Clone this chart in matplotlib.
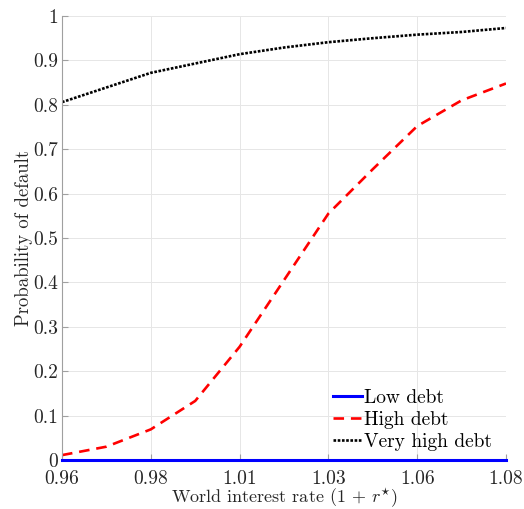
import numpy as np
import matplotlib
matplotlib.use('Agg')
import matplotlib.pyplot as plt

plt.rcParams['font.family'] = 'serif'
plt.rcParams['font.serif'] = ['cmr10']
plt.rcParams['mathtext.fontset'] = 'cm'
plt.rcParams['axes.unicode_minus'] = False

# world interest rate grid
tasa = [0.96, 0.972, 0.984, 0.996, 1.008, 1.02, 1.032, 1.044, 1.056, 1.068, 1.08]

# probability of default
bajo = [0, 0, 0, 0, 0, 0, 0, 0, 0, 0, 0]
alto = [0.011, 0.030, 0.069, 0.133, 0.255, 0.405, 0.555, 0.655, 0.752, 0.810, 0.848]
muy_alto = [0.806, 0.839, 0.872, 0.893, 0.914, 0.929, 0.941, 0.950, 0.958, 0.964, 0.973]

xticks = [0.96, 0.984, 1.008, 1.032, 1.056, 1.08]
xlabels = ['0.96', '0.98', '1.01', '1.03', '1.06', '1.08']
yticks = [0, 0.1, 0.2, 0.3, 0.4, 0.5, 0.6, 0.7, 0.8, 0.9, 1]
ylabels = ['0', '0.1', '0.2', '0.3', '0.4', '0.5', '0.6', '0.7', '0.8', '0.9', '1']

fig = plt.figure(figsize=(5.24, 5.09), dpi=100)
ax = fig.add_axes([62/524, 49/509, 444/524, 444/509])

ax.plot(tasa, bajo, color='blue', lw=2.2, label='Low debt', clip_on=False, zorder=3)
ax.plot(tasa, alto, color='red', lw=1.9, ls=(0, (4, 2.6)), label='High debt')
ax.plot(tasa, muy_alto, color='black', lw=1.9, ls=(0, (1, 0.6)), label='Very high debt')

ax.set_xlim(0.96, 1.08)
ax.set_ylim(0, 1)
ax.set_xticks(xticks)
ax.set_xticklabels(xlabels)
ax.set_yticks(yticks)
ax.set_yticklabels(ylabels)

ax.grid(True, color='#e6e6e6', lw=0.7)
ax.set_axisbelow(True)
for lado in ['top', 'right']:
    ax.spines[lado].set_visible(False)
for lado in ['left', 'bottom']:
    ax.spines[lado].set_color('#a0a0a0')
    ax.spines[lado].set_linewidth(0.8)
ax.tick_params(direction='in', length=4, width=0.8, color='#a0a0a0',
               labelsize=14, labelcolor='#262626')
ax.tick_params(axis='y', pad=3)
ax.tick_params(axis='x', pad=7)

ax.set_xlabel(r'World interest rate (1 + $r^{\star}$)', fontsize=13, color='#262626', labelpad=-1)
ax.set_ylabel('Probability of default', fontsize=13.5, color='#262626', labelpad=0)

ax.legend(loc='lower right', frameon=False, fontsize=14, handlelength=1.5,
          handletextpad=0.1, labelspacing=0.2, borderaxespad=0.3,
          bbox_to_anchor=(1.0, -0.01))

plt.savefig('out.png', dpi=100)
